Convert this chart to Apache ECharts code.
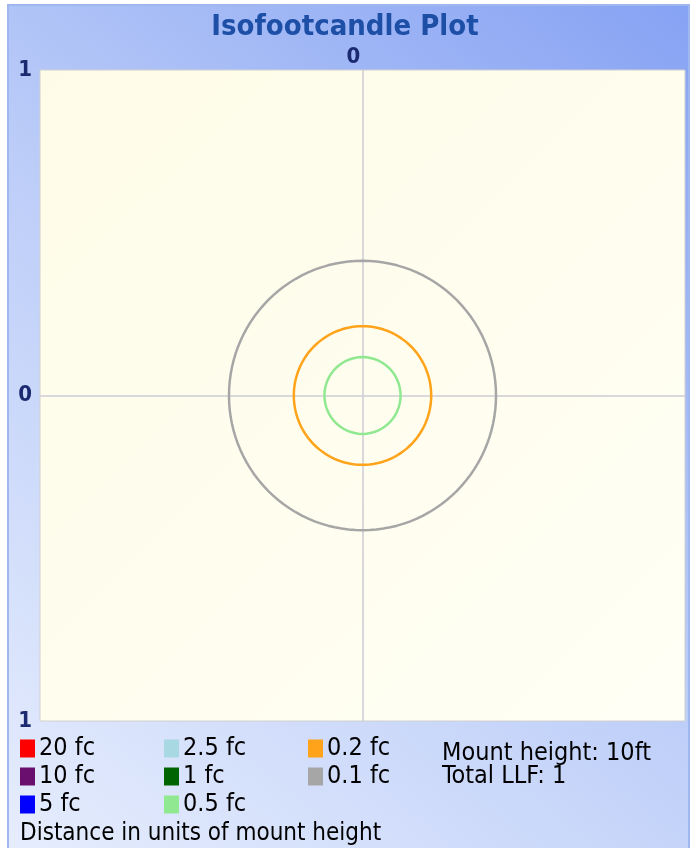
<!DOCTYPE html>
<html>
<head>
<meta charset="utf-8">
<script src="https://cdn.jsdelivr.net/npm/echarts@6/dist/echarts.min.js"></script>
<style>
  html, body { margin: 0; padding: 0; background: #fff; }
  #main { width: 690px; height: 848px; }
</style>
</head>
<body>
<div id="main"></div>
<script>
// iso-illuminance levels shown in the legend
const levels = ['20 fc', '10 fc', '5 fc', '2.5 fc', '1 fc', '0.5 fc', '0.2 fc', '0.1 fc'];
const levelColors = ['#ff0000', '#6a0f6e', '#0000ff', '#a8d8e2', '#006400', '#90e890', '#ffa31a', '#a6a6a6'];
// contour radius in units of mount height (null = level not reached)
const contourRadius = [null, null, null, null, null, 0.118, 0.213, 0.414];
const legendColumns = [[0, 1, 2], [3, 4, 5], [6, 7]];
const infoLines = ['Mount height: 10ft', 'Total LLF: 1'];
const axisTicks = [-1, 0, 1];

const FONT = "'DejaVu Sans Condensed', 'Liberation Sans Narrow', 'DejaVu Sans', sans-serif";

function circle(r) {
  const pts = [];
  for (let a = 0; a <= 360; a += 3) {
    const t = a * Math.PI / 180;
    pts.push([r * Math.cos(t), r * Math.sin(t)]);
  }
  return pts;
}

const series = levels.map(function (name, i) {
  return {
    name: name,
    type: 'line',
    showSymbol: false,
    silent: true,
    color: levelColors[i],
    lineStyle: { width: 2.5, color: levelColors[i] },
    data: contourRadius[i] == null ? [] : circle(contourRadius[i])
  };
});

const legendX = [20, 164, 308];
const legends = legendColumns.map(function (col, c) {
  return {
    orient: 'vertical',
    left: legendX[c],
    top: 736,
    padding: 0,
    itemWidth: 15,
    itemHeight: 18,
    itemGap: 3,
    icon: 'rect',
    selectedMode: false,
    data: col.map(function (i) { return levels[i]; }),
    textStyle: { fontFamily: FONT, fontSize: 25, color: '#000', padding: [0, 0, 0, -1] }
  };
});

const myChart = echarts.init(document.getElementById('main'));
myChart.setOption({
  animation: false,
  title: {
    text: 'Isofootcandle Plot',
    left: 'center',
    top: 8,
    textStyle: { fontFamily: FONT, fontSize: 29, fontWeight: 'bold', color: '#1d4fa6' }
  },
  graphic: [
    {
      type: 'rect',
      z: -10,
      shape: { x: 8, y: 5, width: 681, height: 845 },
      style: {
        fill: new echarts.graphic.LinearGradient(0, 1, 1, 0, [
          { offset: 0, color: '#e6edfd' },
          { offset: 0.5, color: '#bccdf8' },
          { offset: 1, color: '#86a2f3' }
        ]),
        stroke: '#9fb6ef',
        lineWidth: 2
      }
    },
    {
      type: 'text',
      left: 442,
      top: 741,
      style: {
        text: infoLines.join('\n'),
        fontFamily: FONT,
        fontSize: 25,
        lineHeight: 23,
        fill: '#000'
      }
    },
    {
      type: 'text',
      left: 20,
      top: 822,
      style: {
        text: 'Distance in units of mount height',
        fontFamily: FONT,
        fontSize: 24,
        fill: '#000'
      }
    }
  ],
  legend: legends,
  grid: {
    left: 40,
    right: 5,
    top: 70,
    bottom: 127,
    show: true,
    borderColor: '#d0d0d0',
    borderWidth: 1,
    backgroundColor: new echarts.graphic.LinearGradient(0, 0, 1, 1, [
      { offset: 0, color: '#fefce8' },
      { offset: 1, color: '#fffff5' }
    ])
  },
  xAxis: {
    type: 'value',
    position: 'top',
    min: axisTicks[0],
    max: axisTicks[2],
    interval: 1,
    axisLine: { show: false },
    axisTick: { show: false },
    splitLine: { show: true, showMinLine: false, showMaxLine: false, lineStyle: { color: '#cdcdd6', width: 1.5 } },
    axisLabel: {
      margin: 2,
      fontFamily: FONT,
      fontSize: 22,
      fontWeight: 'bold',
      color: '#1b2a70',
      padding: [0, 18, 0, 0],
      formatter: function (v) { return v === 0 ? '0' : ''; }
    }
  },
  yAxis: {
    type: 'value',
    min: axisTicks[0],
    max: axisTicks[2],
    interval: 1,
    axisLine: { show: false },
    axisTick: { show: false },
    splitLine: { show: true, showMinLine: false, showMaxLine: false, lineStyle: { color: '#cdcdd6', width: 1.5 } },
    axisLabel: {
      margin: 8,
      fontFamily: FONT,
      fontSize: 22,
      fontWeight: 'bold',
      color: '#1b2a70',
      formatter: function (v) { return String(Math.abs(v)); }
    }
  },
  series: series
});
</script>
</body>
</html>
